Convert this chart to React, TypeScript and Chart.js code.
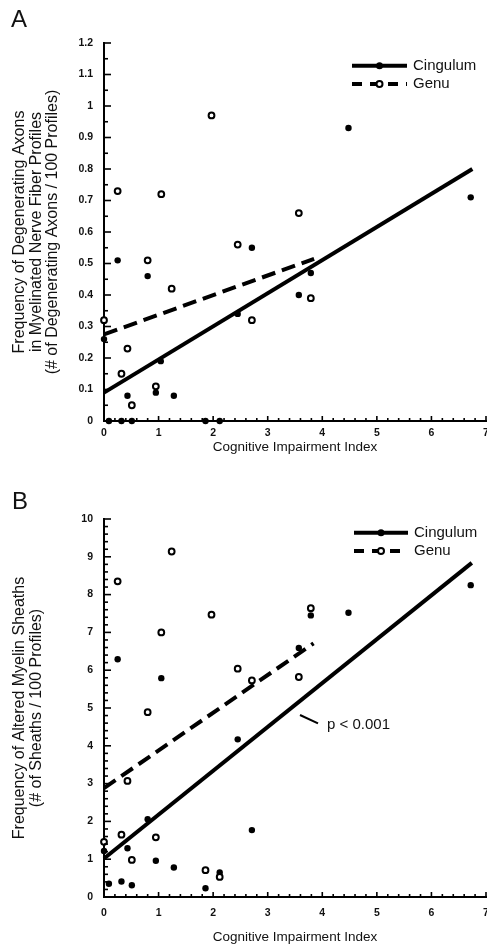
import React, { useEffect, useRef } from 'react';
import { Chart, registerables } from 'chart.js';

Chart.register(...registerables);

// ---------- DATA ----------
const xTickValues = [0, 1, 2, 3, 4, 5, 6, 7];
const yTickValuesA = [0, 0.1, 0.2, 0.3, 0.4, 0.5, 0.6, 0.7, 0.8, 0.9, 1, 1.1, 1.2];
const yTickValuesB = [0, 1, 2, 3, 4, 5, 6, 7, 8, 9, 10];

const seriesNames = ['Cingulum', 'Genu'];
const xAxisTitle = 'Cognitive Impairment Index';
const yAxisTitleA = [
  'Frequency of Degenerating Axons',
  'in Myelinated Nerve Fiber Profiles',
  '(# of Degenerating Axons / 100 Profiles)',
];
const yAxisTitleB = ['Frequency of Altered Myelin Sheaths', '(# of Sheaths / 100 Profiles)'];
const annotationB = 'p < 0.001';

// Panel A – cingulum (filled)
const cingulumA_X = [0, 0.09, 0.25, 0.32, 0.43, 0.51, 0.8, 0.95, 1.04, 1.28, 1.86, 2.12, 2.45, 2.71, 3.57, 3.79, 4.48, 6.72];
const cingulumA_Y = [0.26, 0, 0.51, 0, 0.08, 0, 0.46, 0.09, 0.19, 0.08, 0, 0, 0.34, 0.55, 0.4, 0.47, 0.93, 0.71];
// Panel A – genu (open)
const genuA_X = [0, 0.25, 0.32, 0.43, 0.51, 0.8, 0.95, 1.05, 1.24, 1.97, 2.45, 2.71, 3.57, 3.79];
const genuA_Y = [0.32, 0.73, 0.15, 0.23, 0.05, 0.51, 0.11, 0.72, 0.42, 0.97, 0.56, 0.32, 0.66, 0.39];
// Panel A – regression lines
const fitCingulumA_X = [0, 6.75];
const fitCingulumA_Y = [0.09, 0.8];
const fitGenuA_X = [0, 3.85];
const fitGenuA_Y = [0.275, 0.515];

// Panel B – cingulum (filled)
const cingulumB_X = [0, 0.09, 0.25, 0.32, 0.43, 0.51, 0.8, 0.95, 1.05, 1.28, 1.86, 2.12, 2.45, 2.71, 3.57, 3.79, 4.48, 6.72];
const cingulumB_Y = [1.22, 0.35, 6.29, 0.41, 1.29, 0.31, 2.06, 0.96, 5.79, 0.78, 0.23, 0.65, 4.17, 1.77, 6.59, 7.45, 7.52, 8.25];
// Panel B – genu (open)
const genuB_X = [0, 0.25, 0.32, 0.43, 0.51, 0.8, 0.95, 1.05, 1.24, 1.86, 1.97, 2.12, 2.45, 2.71, 3.57, 3.79];
const genuB_Y = [1.46, 8.35, 1.65, 3.07, 0.98, 4.89, 1.58, 7.0, 9.14, 0.71, 7.47, 0.53, 6.04, 5.73, 5.82, 7.64];
// Panel B – regression lines
const fitCingulumB_X = [0, 6.74];
const fitCingulumB_Y = [1.02, 8.84];
const fitGenuB_X = [0, 3.84];
const fitGenuB_Y = [2.88, 6.71];

// ---------- STYLE ----------
const FONT = "'Liberation Sans', Arial, Helvetica, sans-serif";
const CANVAS_W = 500;
const CANVAS_H = 476;

const toPts = (xs: number[], ys: number[]) => xs.map((x, i) => ({ x, y: ys[i] }));

const decorPlugin = {
  id: 'decor',
  afterDatasetsDraw(chart: any, _args: any, o: any) {
    const ctx: CanvasRenderingContext2D = chart.ctx;
    const xs = chart.scales.x;
    const ys = chart.scales.y;
    const ca = chart.chartArea;
    ctx.save();
    ctx.strokeStyle = '#000';
    ctx.lineCap = 'butt';
    // inward y ticks
    ctx.lineWidth = 1.6;
    const yt: number[] = o.yTicks;
    for (let i = 0; i < yt.length; i++) {
      const py = ys.getPixelForValue(yt[i]);
      ctx.beginPath();
      ctx.moveTo(ca.left, py);
      ctx.lineTo(ca.left + 7, py);
      ctx.stroke();
      if (i < yt.length - 1) {
        for (let k = 1; k < o.yMinor; k++) {
          const v = yt[i] + ((yt[i + 1] - yt[i]) * k) / o.yMinor;
          const p = ys.getPixelForValue(v);
          ctx.beginPath();
          ctx.moveTo(ca.left, p);
          ctx.lineTo(ca.left + 4, p);
          ctx.stroke();
        }
      }
    }
    // inward x ticks
    const xt: number[] = o.xTicks;
    for (let i = 0; i < xt.length; i++) {
      const px = xs.getPixelForValue(xt[i]);
      ctx.beginPath();
      ctx.moveTo(px, ca.bottom);
      ctx.lineTo(px, ca.bottom - 5);
      ctx.stroke();
      if (i < xt.length - 1) {
        for (let k = 1; k < o.xMinor; k++) {
          const v = xt[i] + ((xt[i + 1] - xt[i]) * k) / o.xMinor;
          const p = xs.getPixelForValue(v);
          ctx.beginPath();
          ctx.moveTo(p, ca.bottom);
          ctx.lineTo(p, ca.bottom - 3);
          ctx.stroke();
        }
      }
    }

    // legend
    const [lx1, lx2, tx] = o.legendX;
    const [ly1, ly2] = o.legendY;
    const cx = (lx1 + lx2) / 2;
    ctx.lineWidth = 4;
    ctx.beginPath();
    ctx.moveTo(lx1, ly1);
    ctx.lineTo(lx2, ly1);
    ctx.stroke();
    ctx.fillStyle = '#000';
    ctx.beginPath();
    ctx.arc(cx, ly1, 3.5, 0, Math.PI * 2);
    ctx.fill();
    ctx.setLineDash([10, 8]);
    ctx.beginPath();
    ctx.moveTo(lx1, ly2);
    ctx.lineTo(lx2, ly2);
    ctx.stroke();
    ctx.setLineDash([]);
    ctx.lineWidth = 2;
    ctx.fillStyle = '#fff';
    ctx.beginPath();
    ctx.arc(cx, ly2, 3, 0, Math.PI * 2);
    ctx.fill();
    ctx.stroke();
    ctx.fillStyle = '#111';
    ctx.font = `15px ${FONT}`;
    ctx.textBaseline = 'middle';
    ctx.textAlign = 'left';
    ctx.fillText(o.names[0], tx, ly1);
    ctx.fillText(o.names[1], tx, ly2);

    // annotation
    if (o.annotation) {
      const a = o.annotation;
      ctx.strokeStyle = '#000';
      ctx.lineWidth = 2;
      ctx.beginPath();
      ctx.moveTo(a.x1, a.y1);
      ctx.lineTo(a.x2, a.y2);
      ctx.stroke();
      ctx.fillText(a.text, a.tx, a.ty);
    }

    // panel letter
    ctx.font = `24px ${FONT}`;
    ctx.textBaseline = 'alphabetic';
    ctx.fillStyle = '#111';
    ctx.fillText(o.letter, o.letterPos[0], o.letterPos[1]);
    ctx.restore();
  },
};

type PanelCfg = {
  letter: string;
  yTicks: number[];
  yMinor: number;
  cingX: number[];
  cingY: number[];
  genuX: number[];
  genuY: number[];
  fitCX: number[];
  fitCY: number[];
  fitGX: number[];
  fitGY: number[];
  yTitle: string[];
  xTitlePad: number;
  xTickPad: number;
  legendX: number[];
  legendY: number[];
  letterPos: number[];
  annotation: any;
};

function Panel({ cfg }: { cfg: PanelCfg }) {
  const ref = useRef<HTMLCanvasElement>(null);
  useEffect(() => {
    const chart = new Chart(ref.current as HTMLCanvasElement, {
      type: 'scatter',
      data: {
        datasets: [
          {
            label: seriesNames[0],
            data: toPts(cfg.cingX, cfg.cingY),
            backgroundColor: '#000',
            borderWidth: 0,
            pointRadius: 3.2,
            order: 1,
            clip: false,
          } as any,
          {
            label: seriesNames[1],
            data: toPts(cfg.genuX, cfg.genuY),
            backgroundColor: '#fff',
            borderColor: '#000',
            borderWidth: 2,
            pointRadius: 2.9,
            order: 0,
            clip: false,
          } as any,
          {
            label: seriesNames[0] + ' fit',
            data: toPts(cfg.fitCX, cfg.fitCY),
            showLine: true,
            borderColor: '#000',
            borderWidth: 4,
            pointRadius: 0,
            order: 2,
            clip: false,
          } as any,
          {
            label: seriesNames[1] + ' fit',
            data: toPts(cfg.fitGX, cfg.fitGY),
            showLine: true,
            borderColor: '#000',
            borderWidth: 4,
            borderDash: [14, 7],
            pointRadius: 0,
            order: 3,
            clip: false,
          } as any,
        ],
      },
      options: {
        animation: false,
        responsive: false,
        devicePixelRatio: 1,
        layout: { padding: { top: 43, right: CANVAS_W - 486, bottom: 0, left: 0 } },
        plugins: {
          legend: { display: false },
          tooltip: { enabled: false },
          decor: {
            yTicks: cfg.yTicks,
            yMinor: cfg.yMinor,
            xTicks: xTickValues,
            xMinor: 5,
            legendX: cfg.legendX,
            legendY: cfg.legendY,
            names: seriesNames,
            letter: cfg.letter,
            letterPos: cfg.letterPos,
            annotation: cfg.annotation,
          },
        } as any,
        scales: {
          x: {
            type: 'linear',
            min: xTickValues[0],
            max: xTickValues[xTickValues.length - 1],
            grid: { display: false, drawTicks: false },
            border: { display: true, color: '#000', width: 2 },
            afterBuildTicks: (s: any) => {
              s.ticks = xTickValues.map((v) => ({ value: v }));
            },
            afterFit: (s: any) => {
              s.height = CANVAS_H - 421;
              s.paddingLeft = 0;
              s.paddingRight = 0;
            },
            ticks: {
              color: '#111',
              padding: cfg.xTickPad,
              font: { family: FONT, size: 10.5, weight: 'bold' },
              maxRotation: 0,
              callback: (v: any) => String(v),
            },
            title: {
              display: true,
              text: xAxisTitle,
              color: '#111',
              font: { family: FONT, size: 13.5 },
              padding: { top: 0, bottom: cfg.xTitlePad },
            },
          },
          y: {
            type: 'linear',
            min: cfg.yTicks[0],
            max: cfg.yTicks[cfg.yTicks.length - 1],
            grid: { display: false, drawTicks: false },
            border: { display: true, color: '#000', width: 2 },
            afterBuildTicks: (s: any) => {
              s.ticks = cfg.yTicks.map((v) => ({ value: v }));
            },
            afterFit: (s: any) => {
              s.width = 104;
            },
            ticks: {
              color: '#111',
              padding: 11,
              font: { family: FONT, size: 10.5, weight: 'bold' },
              callback: (v: any) => String(v),
            },
            title: {
              display: true,
              text: cfg.yTitle,
              color: '#111',
              font: { family: FONT, size: 16, lineHeight: '16.5px' },
              padding: { top: 11.5, bottom: 0 },
            },
          },
        },
      } as any,
      plugins: [decorPlugin as any],
    });
    return () => chart.destroy();
  }, []);
  return (
    <canvas
      ref={ref}
      width={CANVAS_W}
      height={CANVAS_H}
      style={{ display: 'block', width: CANVAS_W, height: CANVAS_H }}
    />
  );
}

const panelA: PanelCfg = {
  letter: 'A',
  yTicks: yTickValuesA,
  yMinor: 2,
  cingX: cingulumA_X,
  cingY: cingulumA_Y,
  genuX: genuA_X,
  genuY: genuA_Y,
  fitCX: fitCingulumA_X,
  fitCY: fitCingulumA_Y,
  fitGX: fitGenuA_X,
  fitGY: fitGenuA_Y,
  yTitle: yAxisTitleA,
  xTitlePad: 21,
  xTickPad: 6,
  legendX: [352, 407, 413],
  legendY: [65.7, 84],
  letterPos: [11, 27],
  annotation: null,
};

const panelB: PanelCfg = {
  letter: 'B',
  yTicks: yTickValuesB,
  yMinor: 5,
  cingX: cingulumB_X,
  cingY: cingulumB_Y,
  genuX: genuB_X,
  genuY: genuB_Y,
  fitCX: fitCingulumB_X,
  fitCY: fitCingulumB_Y,
  fitGX: fitGenuB_X,
  fitGY: fitGenuB_Y,
  yTitle: yAxisTitleB,
  xTitlePad: 7,
  xTickPad: 10,
  legendX: [354, 408, 414],
  legendY: [56.7, 75],
  letterPos: [12, 33],
  annotation: { text: annotationB, x1: 300, y1: 239, x2: 318, y2: 247.3, tx: 327, ty: 249 },
};

export default function App() {
  useEffect(() => {
    document.body.style.margin = '0';
    document.body.style.overflow = 'hidden';
    document.documentElement.style.overflow = 'hidden';
  }, []);
  return (
    <div style={{ width: 487, height: 952, overflow: 'hidden', background: '#fff', margin: 0 }}>
      <Panel cfg={panelA} />
      <Panel cfg={panelB} />
    </div>
  );
}
